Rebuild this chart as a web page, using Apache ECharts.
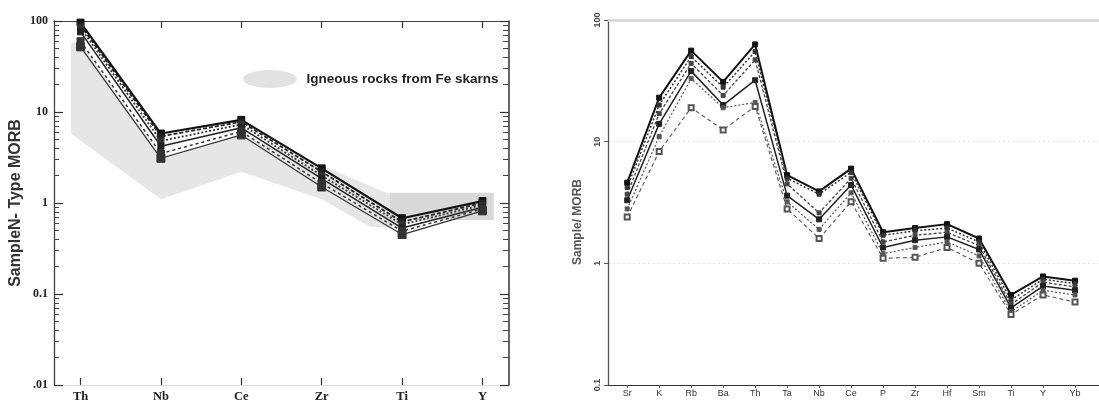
<!DOCTYPE html>
<html><head><meta charset="utf-8">
<script src="https://cdn.jsdelivr.net/npm/echarts@6/dist/echarts.min.js"></script>
<style>html,body{margin:0;padding:0;background:#fff}#c{width:1099px;height:403px}</style>
</head><body><div id="c"></div>
<script>
// ---- Left panel (N-MORB normalised) ----
const leftCats = ['Th','Nb','Ce','Zr','Ti','Y'];
const leftTickLabels = {'100':'100','10':'10','1':'1','0.1':'0.1','0.01':'.01'};
const L1 = [96, 5.8, 8.2, 2.4, 0.68, 1.05];
const L2 = [90, 5.4, 7.8, 2.2, 0.62, 1.0];
const L3 = [84, 4.8, 7.3, 2.0, 0.58, 0.95];
const L4 = [76, 4.2, 6.7, 1.85, 0.53, 0.9];
const L5 = [60, 3.5, 6.1, 1.65, 0.49, 0.86];
const L6 = [52, 3.1, 5.6, 1.5, 0.45, 0.82];
const fieldMain = [[-0.12,58],[0,58],[1,3.2],[2,5.6],[3,2.6],[3.8,1.3],[4,1.2],[4,0.53],[3.6,0.55],[3,1.1],[2,2.2],[1,1.1],[-0.12,5.8]];
const fieldRect = [[3.85,1.3],[5.14,1.3],[5.14,0.65],[3.85,0.65]];
const fieldName = 'Igneous rocks from Fe skarns';

// ---- Right panel (MORB normalised) ----
const rightCats = ['Sr','K','Rb','Ba','Th','Ta','Nb','Ce','P','Zr','Hf','Sm','Ti','Y','Yb'];
const rightTickLabels = {'100':'100','10':'10','1':'1','0.1':'0.1'};
const R1 = [4.6, 23, 56, 31, 63, 5.3, 3.9, 6.0, 1.8, 1.95, 2.1, 1.6, 0.55, 0.78, 0.72];
const R2 = [4.2, 20, 50, 28, 55, 5.0, 3.7, 5.6, 1.7, 1.85, 1.95, 1.5, 0.5, 0.74, 0.68];
const R3 = [3.7, 17, 44, 24, 47, 4.5, 2.6, 5.0, 1.5, 1.7, 1.8, 1.4, 0.46, 0.7, 0.64];
const R4 = [3.3, 14, 38, 20, 32, 3.6, 2.3, 4.4, 1.35, 1.55, 1.65, 1.3, 0.43, 0.65, 0.6];
const R5 = [2.8, 11, 33, 19, 21, 3.2, 1.9, 3.8, 1.2, 1.35, 1.5, 1.15, 0.4, 0.6, 0.55];
const R6 = [2.4, 8.3, 19, 12.5, 19.5, 2.8, 1.6, 3.2, 1.1, 1.12, 1.35, 1.0, 0.38, 0.55, 0.48];

const pairs = arr => arr.map((v,i)=>[i,v]);
const leftIdx = leftCats.map((c,i)=>i);
const rightIdx = rightCats.map((c,i)=>i);
const minorTicks = [];
for (let n=-2;n<2;n++){ for (let k=2;k<=9;k++){ minorTicks.push(n+Math.log10(k)); } }
const fmtLog = map => v => { const k = String(+(+v).toPrecision(3)); return map[k] !== undefined ? map[k] : ''; };

const serif = 'Liberation Serif';
const sans = 'Liberation Sans';

function lineSeries(name, data, xi, yi, color, width, type, symbol, size){
  return {name:name, type:'line', xAxisIndex:xi, yAxisIndex:yi, data:pairs(data), z:3,
    lineStyle:{color:color, width:width, type:type},
    symbol:symbol, symbolSize:size, itemStyle:{color:color, borderColor:color},
    emphasis:{disabled:true}, animation:false};
}

const option = {
  animation:false,
  backgroundColor:'#fff',
  legend:{data:[fieldName], left:238, top:65, itemWidth:63, itemHeight:18,
    icon:'path://M0,10 A30,10 0 1,1 60,10 A30,10 0 1,1 0,10 Z',
    textStyle:{fontFamily:sans, fontWeight:'bold', fontSize:13.5, color:'#222'}},
  grid:[
    {left:54, right:590, top:21, bottom:15},
    {left:608, right:0, top:20, bottom:18}
  ],
  xAxis:[
    {gridIndex:0, type:'value', position:'bottom', min:-0.33, max:5.33,
      axisLine:{onZero:false, lineStyle:{color:'#ddd', width:1}},
      axisTick:{inside:true, length:7, customValues:leftIdx, lineStyle:{color:'#333', width:1.2}},
      axisLabel:{customValues:leftIdx, formatter:v=>leftCats[Math.round(v)], margin:5,
        fontFamily:serif, fontWeight:'bold', fontSize:12.5, color:'#222'},
      splitLine:{show:false}},
    {gridIndex:0, type:'value', position:'top', min:-0.33, max:5.33,
      axisLine:{onZero:false, lineStyle:{color:'#444', width:1.2}},
      axisTick:{inside:true, length:7, customValues:leftIdx, lineStyle:{color:'#333', width:1.2}},
      axisLabel:{show:false}, splitLine:{show:false}},
    {gridIndex:1, type:'value', position:'bottom', min:-0.6, max:14.75,
      axisLine:{onZero:false, lineStyle:{color:'#333', width:1.2}},
      axisTick:{length:3, customValues:rightIdx, lineStyle:{color:'#555'}},
      axisLabel:{customValues:rightIdx, formatter:v=>rightCats[Math.round(v)], margin:4,
        fontFamily:sans, fontSize:9, color:'#333'},
      splitLine:{show:false}},
    {gridIndex:1, type:'value', position:'top', min:-0.6, max:14.75,
      axisLine:{onZero:false, lineStyle:{color:'#d2d2d2', width:2.5}},
      axisTick:{show:false}, axisLabel:{show:false}, splitLine:{show:false}}
  ],
  yAxis:[
    {gridIndex:0, type:'log', logBase:10, min:0.01, max:100, position:'left',
      name:'SampleN- Type MORB', nameLocation:'middle', nameGap:30,
      nameTextStyle:{fontFamily:sans, fontWeight:'bold', fontSize:16, color:'#333'},
      axisLine:{onZero:false, lineStyle:{color:'#444', width:1.3}},
      axisTick:{inside:true, length:9, lineStyle:{color:'#333', width:1.2}},
      axisLabel:{formatter:fmtLog(leftTickLabels), margin:6, fontFamily:serif, fontWeight:'bold', fontSize:12, color:'#222'},
      splitLine:{show:false}},
    {gridIndex:0, type:'value', min:-2, max:2, position:'left',
      axisLine:{show:false, onZero:false},
      axisTick:{inside:true, length:5, customValues:minorTicks, lineStyle:{color:'#444', width:1}},
      axisLabel:{show:false}, splitLine:{show:false}},
    {gridIndex:0, type:'log', logBase:10, min:0.01, max:100, position:'right',
      axisLine:{onZero:false, lineStyle:{color:'#333', width:1.5}},
      axisTick:{inside:true, length:9, lineStyle:{color:'#333', width:1.2}},
      axisLabel:{show:false}, splitLine:{show:false}},
    {gridIndex:0, type:'value', min:-2, max:2, position:'right',
      axisLine:{show:false, onZero:false},
      axisTick:{inside:true, length:6, customValues:minorTicks, lineStyle:{color:'#444', width:1}},
      axisLabel:{show:false}, splitLine:{show:false}},
    {gridIndex:1, type:'log', logBase:10, min:0.1, max:100, position:'left',
      axisLine:{onZero:false, lineStyle:{color:'#555', width:1.3}},
      axisTick:{length:4, lineStyle:{color:'#555'}},
      axisLabel:{formatter:fmtLog(rightTickLabels), rotate:90, margin:6, fontFamily:sans, fontWeight:'bold', fontSize:9, color:'#444'},
      splitLine:{show:true, lineStyle:{color:'#e2e2e2', type:[2,3], width:1}}}
  ],
  graphic:[
    {type:'text', x:578, y:222, rotation:Math.PI/2,
      style:{text:'Sample/ MORB', fontFamily:sans, fontWeight:'bold', fontSize:12, fill:'#555', align:'center', verticalAlign:'middle'}}
  ],
  series:[
    {name:fieldName, type:'custom', xAxisIndex:0, yAxisIndex:0, z:1,
      itemStyle:{color:'#e2e2e2'},
      encode:{x:0, y:1}, data:[[0,1],[1,1]], silent:true,
      renderItem:function(params, api){
        const idx = api.value(0);
        const poly = idx === 0 ? fieldMain : fieldRect;
        return {type:'polygon', shape:{points:poly.map(p=>api.coord(p))},
          style:{fill: idx === 0 ? '#e6e6e6' : '#d9d9d9'}};
      }},
    lineSeries('L1', L1, 0, 0, '#111', 2.2, 'solid', 'rect', 7),
    lineSeries('L2', L2, 0, 0, '#222', 1.8, [4,2], 'rect', 6),
    lineSeries('L3', L3, 0, 0, '#333', 1.8, [2,2], 'rect', 6),
    lineSeries('L4', L4, 0, 0, '#222', 1.5, 'solid', 'rect', 6),
    lineSeries('L5', L5, 0, 0, '#333', 1.5, [3,3], 'rect', 7),
    lineSeries('L6', L6, 0, 0, '#333', 1.2, 'solid', 'rect', 8),
    lineSeries('R1', R1, 2, 4, '#111', 2, 'solid', 'rect', 5),
    lineSeries('R2', R2, 2, 4, '#333', 1.5, [2,2], 'rect', 4),
    lineSeries('R3', R3, 2, 4, '#444', 1.3, [3,2], 'rect', 4),
    lineSeries('R4', R4, 2, 4, '#222', 1.5, 'solid', 'rect', 5),
    lineSeries('R5', R5, 2, 4, '#555', 1.2, [2,2], 'rect', 4),
    lineSeries('R6', R6, 2, 4, '#555', 1.1, [4,3], 'emptyRect', 5)
  ]
};
const chart = echarts.init(document.getElementById('c'));
chart.setOption(option);
</script></body></html>
